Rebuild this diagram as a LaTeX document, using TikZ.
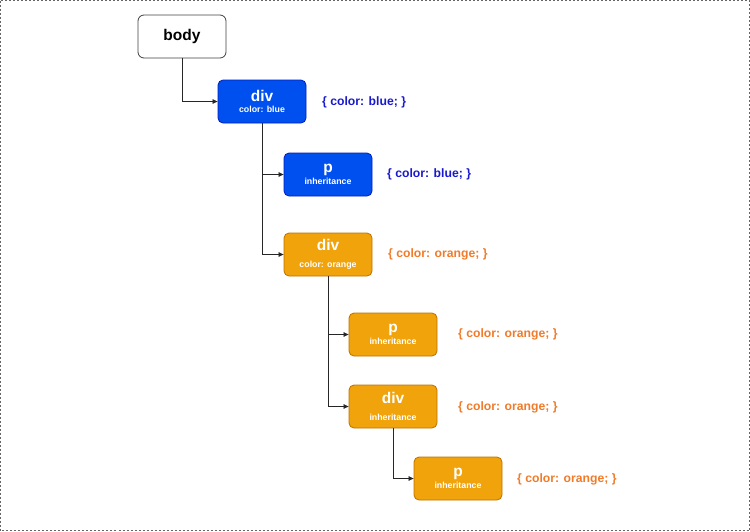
\documentclass[tikz,border=0pt]{standalone}
\usepackage{fontspec}
\setmainfont{Liberation Sans}
\usetikzlibrary{arrows.meta}
\definecolor{bluefill}{HTML}{0050EF}
\definecolor{blueline}{HTML}{001DBC}
\definecolor{orfill}{HTML}{F0A30A}
\definecolor{orline}{HTML}{BD7000}
\definecolor{bluetxt}{HTML}{1A1ACC}
\definecolor{ortxt}{HTML}{F07B2A}
\tikzset{
  box/.style={rounded corners=5pt, minimum width=88pt, minimum height=43pt, inner sep=0pt, align=center, text=white, line width=0.8pt},
  bluebox/.style={box, fill=bluefill, draw=blueline},
  orbox/.style={box, fill=orfill, draw=orline},
  bodybox/.style={rounded corners=6pt, minimum width=88pt, minimum height=43pt, draw=black!75, fill=white, line width=0.8pt, inner sep=0pt},
  lbl/.style={font=\fontsize{12.2}{14}\selectfont\bfseries, anchor=west, inner sep=0pt},
  conn/.style={draw=black!85, line width=0.7pt, -{Triangle[length=5pt,width=4.5pt]}},
}
\newcommand{\ttl}[1]{{\fontsize{15.5}{15}\selectfont\bfseries #1}}
\newcommand{\sub}[1]{{\fontsize{8.8}{9}\selectfont\bfseries #1}}
\begin{document}
\begin{tikzpicture}[x=1pt,y=-1pt]
\useasboundingbox (0,0) rectangle (750,531);
\draw[black!60, dashed, line width=0.6pt, dash pattern=on 2pt off 2pt] (0.5,0.5) rectangle (749.5,530.5);

\node[bodybox] (body) at (182,36.5) {\ttl{body}};
\node[bluebox] (div1) at (262,101.5) {\ttl{div}\\[-1pt]\sub{color: blue}};
\node[bluebox] (p1) at (328,174.5) {\ttl{p}\\[0pt]\sub{inheritance}};
\node[orbox] (div2) at (328,254.5) {\ttl{div}\\[5pt]\sub{color: orange}};
\node[orbox] (p2) at (393,334.5) {\ttl{p}\\[0pt]\sub{inheritance}};
\node[orbox] (div3) at (393,406.5) {\ttl{div}\\[5pt]\sub{inheritance}};
\node[orbox] (p3) at (458,478.5) {\ttl{p}\\[0pt]\sub{inheritance}};

\node[lbl, text=bluetxt] (l1) at (322,102) {\{ color: blue; \}};
\node[lbl, text=bluetxt] (l2) at (387,174.5) {\{ color: blue; \}};
\node[lbl, text=ortxt] (l3) at (388,254.5) {\{ color: orange; \}};
\node[lbl, text=ortxt] (l4) at (458,334.5) {\{ color: orange; \}};
\node[lbl, text=ortxt] (l5) at (458,407) {\{ color: orange; \}};
\node[lbl, text=ortxt] (l6) at (517,479.5) {\{ color: orange; \}};

\draw[conn] (body.south) |- (div1.west);
\draw[conn] (div1.south) |- (p1.west);
\draw[conn] (div1.south) |- (div2.west);
\draw[conn] (div2.south) |- (p2.west);
\draw[conn] (div2.south) |- (div3.west);
\draw[conn] (div3.south) |- (p3.west);
\end{tikzpicture}
\end{document}
